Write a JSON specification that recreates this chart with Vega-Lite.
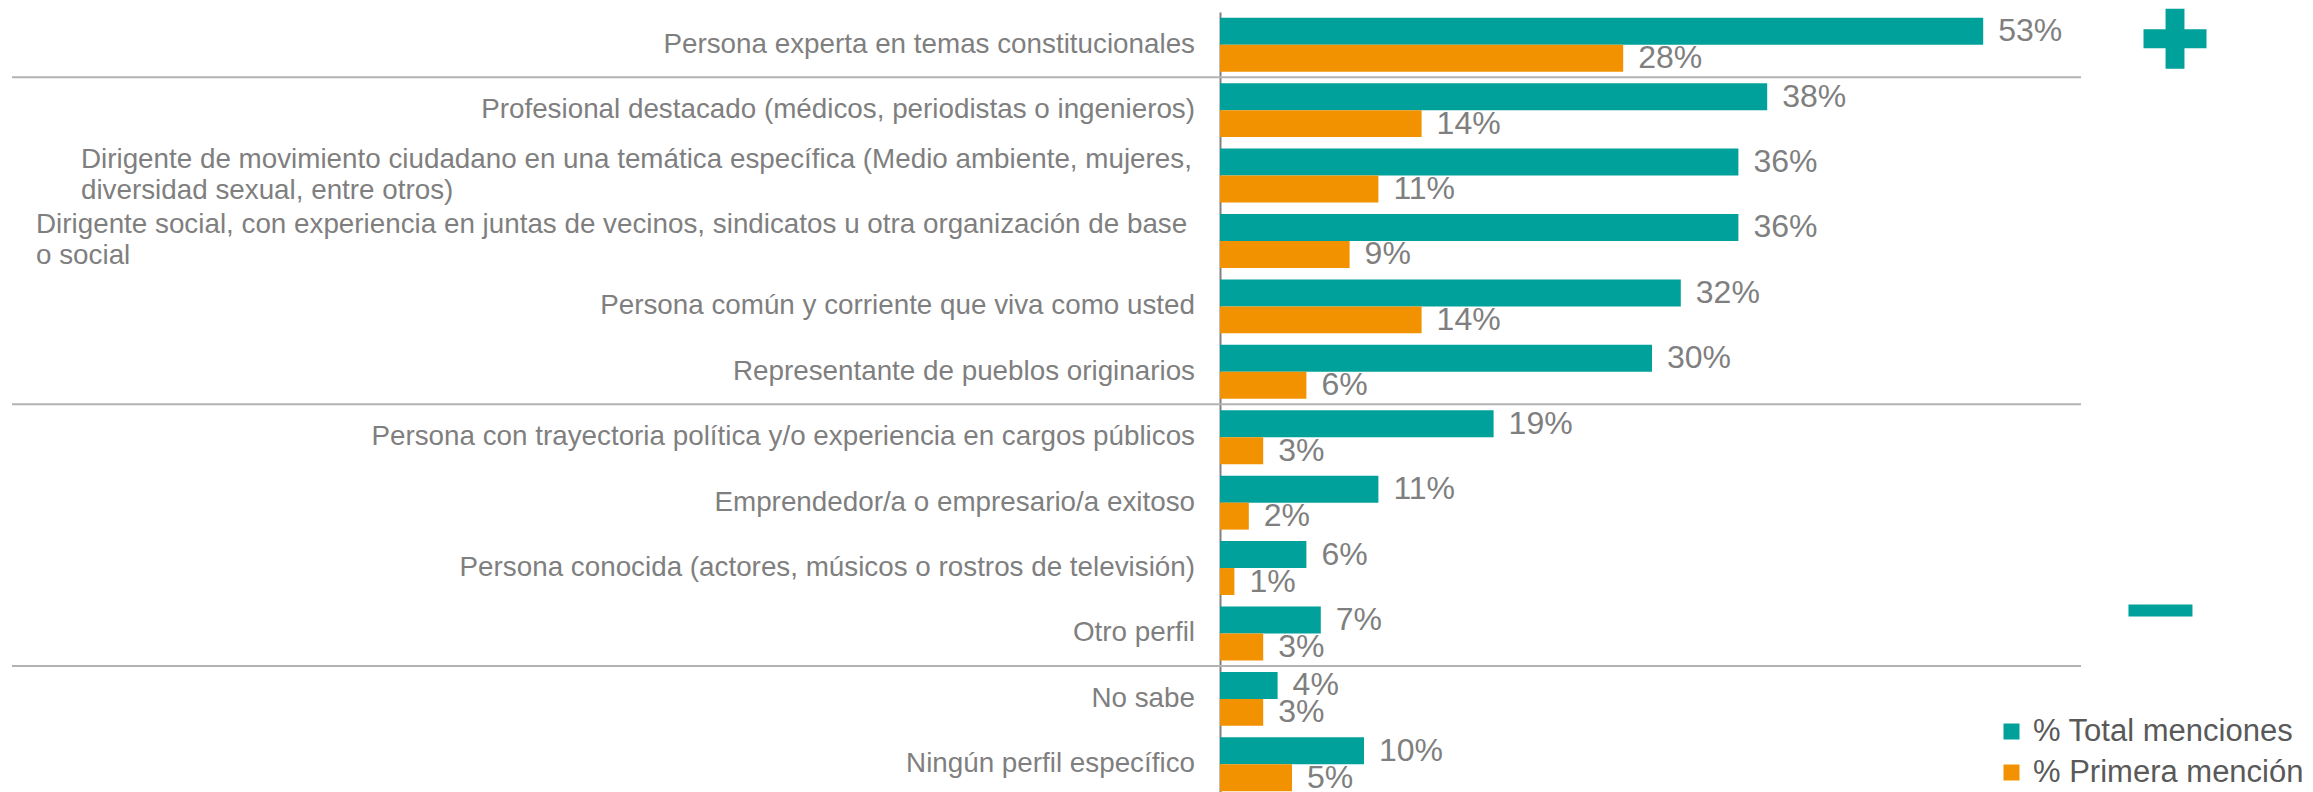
{
  "$schema": "https://vega.github.io/schema/vega-lite/v6.json",
  "width": 1080,
  "height": 785,
  "autosize": {"type": "none"},
  "padding": {"left": 1220, "top": 12, "right": 13, "bottom": 0},
  "background": "white",
  "config": {
    "view": {"stroke": null},
    "font": "Liberation Sans",
    "axisY": {"labels": false, "ticks": false, "domainColor": "#808080", "domainWidth": 2, "grid": false}
  },
  "data": {
    "values": [
      {"perfil": "Persona experta en temas constitucionales", "serie": "% Total menciones", "valor": 0.53},
      {"perfil": "Persona experta en temas constitucionales", "serie": "% Primera mención", "valor": 0.28},
      {"perfil": "Profesional destacado (médicos, periodistas o ingenieros)", "serie": "% Total menciones", "valor": 0.38},
      {"perfil": "Profesional destacado (médicos, periodistas o ingenieros)", "serie": "% Primera mención", "valor": 0.14},
      {"perfil": "Dirigente de movimiento ciudadano en una temática específica (Medio ambiente, mujeres,\ndiversidad sexual, entre otros)", "serie": "% Total menciones", "valor": 0.36},
      {"perfil": "Dirigente de movimiento ciudadano en una temática específica (Medio ambiente, mujeres,\ndiversidad sexual, entre otros)", "serie": "% Primera mención", "valor": 0.11},
      {"perfil": "Dirigente social, con experiencia en juntas de vecinos, sindicatos u otra organización de base\no social", "serie": "% Total menciones", "valor": 0.36},
      {"perfil": "Dirigente social, con experiencia en juntas de vecinos, sindicatos u otra organización de base\no social", "serie": "% Primera mención", "valor": 0.09},
      {"perfil": "Persona común y corriente que viva como usted", "serie": "% Total menciones", "valor": 0.32},
      {"perfil": "Persona común y corriente que viva como usted", "serie": "% Primera mención", "valor": 0.14},
      {"perfil": "Representante de pueblos originarios", "serie": "% Total menciones", "valor": 0.30},
      {"perfil": "Representante de pueblos originarios", "serie": "% Primera mención", "valor": 0.06},
      {"perfil": "Persona con trayectoria política y/o experiencia en cargos públicos", "serie": "% Total menciones", "valor": 0.19},
      {"perfil": "Persona con trayectoria política y/o experiencia en cargos públicos", "serie": "% Primera mención", "valor": 0.03},
      {"perfil": "Emprendedor/a o empresario/a exitoso", "serie": "% Total menciones", "valor": 0.11},
      {"perfil": "Emprendedor/a o empresario/a exitoso", "serie": "% Primera mención", "valor": 0.02},
      {"perfil": "Persona conocida (actores, músicos o rostros de televisión)", "serie": "% Total menciones", "valor": 0.06},
      {"perfil": "Persona conocida (actores, músicos o rostros de televisión)", "serie": "% Primera mención", "valor": 0.01},
      {"perfil": "Otro perfil", "serie": "% Total menciones", "valor": 0.07},
      {"perfil": "Otro perfil", "serie": "% Primera mención", "valor": 0.03},
      {"perfil": "No sabe", "serie": "% Total menciones", "valor": 0.04},
      {"perfil": "No sabe", "serie": "% Primera mención", "valor": 0.03},
      {"perfil": "Ningún perfil específico", "serie": "% Total menciones", "valor": 0.10},
      {"perfil": "Ningún perfil específico", "serie": "% Primera mención", "valor": 0.05}
    ]
  },
  "encoding": {
    "y": {"field": "perfil", "type": "nominal", "sort": null, "title": null, "scale": {"paddingInner": 0.175, "paddingOuter": 0.0875}}
  },
  "layer": [
    {
      "mark": {"type": "bar"},
      "encoding": {
        "x": {"field": "valor", "type": "quantitative", "scale": {"domain": [0, 0.75], "nice": false, "zero": true}, "axis": null},
        "yOffset": {"field": "serie", "type": "nominal", "sort": null, "scale": {"domain": ["% Total menciones", "% Primera mención"], "paddingInner": 0, "paddingOuter": 0}},
        "color": {
          "field": "serie", "type": "nominal",
          "scale": {"domain": ["% Total menciones", "% Primera mención"], "range": ["#00A19A", "#F39200"]},
          "legend": {"orient": "none", "legendX": 776, "legendY": 704, "title": null, "symbolType": "square", "symbolSize": 256, "symbolStrokeWidth": 0, "labelFontSize": 31, "labelColor": "#595959", "labelFont": "Liberation Sans", "rowPadding": 9, "labelOffset": 6, "labelLimit": 500, "padding": 0}
        }
      }
    },
    {
      "mark": {"type": "text", "align": "left", "baseline": "middle", "dx": 15, "fontSize": 32, "color": "#7f7f7f", "font": "Liberation Sans"},
      "encoding": {
        "x": {"field": "valor", "type": "quantitative"},
        "yOffset": {"field": "serie", "type": "nominal", "sort": null},
        "text": {"field": "valor", "type": "quantitative", "format": ".0%"}
      }
    },
    {
      "transform": [{"filter": "datum.serie === '% Total menciones' && indexof(datum.perfil, '\\n') < 0"}],
      "mark": {"type": "text", "align": "right", "baseline": "middle", "dx": -25, "fontSize": 27.8, "color": "#7f7f7f", "font": "Liberation Sans"},
      "encoding": {
        "x": {"datum": 0},
        "text": {"field": "perfil", "type": "nominal"}
      }
    },
    {
      "transform": [{"filter": "datum.serie === '% Total menciones' && indexof(datum.perfil, 'Dirigente de movimiento') === 0"}],
      "mark": {"type": "text", "align": "left", "baseline": "middle", "dy": -16, "fontSize": 27.8, "lineHeight": 31, "lineBreak": "\n", "color": "#7f7f7f", "font": "Liberation Sans"},
      "encoding": {
        "x": {"datum": -0.7910},
        "text": {"field": "perfil", "type": "nominal"}
      }
    },
    {
      "transform": [{"filter": "datum.serie === '% Total menciones' && indexof(datum.perfil, 'Dirigente social') === 0"}],
      "mark": {"type": "text", "align": "left", "baseline": "middle", "dy": -16, "fontSize": 27.8, "lineHeight": 31, "lineBreak": "\n", "color": "#7f7f7f", "font": "Liberation Sans"},
      "encoding": {
        "x": {"datum": -0.8222},
        "text": {"field": "perfil", "type": "nominal"}
      }
    },
    {
      "data": {"values": [
        {"perfil": "Profesional destacado (médicos, periodistas o ingenieros)"},
        {"perfil": "Persona con trayectoria política y/o experiencia en cargos públicos"},
        {"perfil": "No sabe"}
      ]},
      "mark": {"type": "rule", "color": "#b3b3b3", "strokeWidth": 2, "yOffset": -6},
      "encoding": {
        "y": {"field": "perfil", "type": "nominal", "sort": null, "title": null, "bandPosition": 0},
        "x": {"datum": -0.8389},
        "x2": {"datum": 0.5979}
      }
    },
    {
      "data": {"values": [{"perfil": "Persona experta en temas constitucionales"}]},
      "mark": {"type": "point", "shape": "M-0.3,-0.95H0.3V-0.3H1V0.3H0.3V0.95H-0.3V0.3H-1V-0.3H-0.3Z", "filled": true, "color": "#00A19A", "opacity": 1, "size": 3969, "strokeWidth": 0, "yOffset": -6},
      "encoding": {
        "x": {"datum": 0.6632}
      }
    },
    {
      "data": {"values": [{"perfil": "Otro perfil"}]},
      "mark": {"type": "point", "shape": "M-1,-0.19H1V0.19H-1Z", "filled": true, "color": "#00A19A", "opacity": 1, "size": 4096, "strokeWidth": 0, "yOffset": -23},
      "encoding": {
        "x": {"datum": 0.6531}
      }
    }
  ]
}
